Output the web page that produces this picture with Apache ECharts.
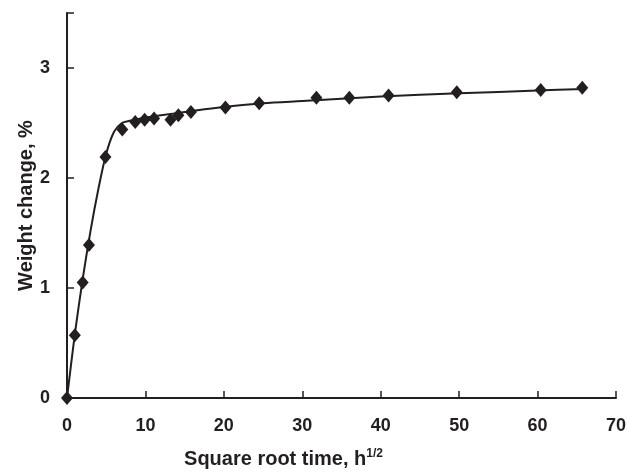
<!DOCTYPE html>
<html>
<head>
<meta charset="utf-8">
<script src="https://cdn.jsdelivr.net/npm/echarts@6/dist/echarts.min.js"></script>
<style>
  html, body { margin: 0; padding: 0; background: #fff; }
  #chart { width: 630px; height: 474px; }
</style>
</head>
<body>
<div id="chart"></div>
<script>
// Measured points (square root time vs weight change)
const pointX = [0, 1.0, 2.0, 2.8, 4.9, 7.05, 8.7, 9.9, 11.1, 13.2, 14.2, 15.8, 20.2, 24.5, 31.8, 36.0, 41.0, 49.7, 60.4, 65.7];
const pointY = [0, 0.57, 1.05, 1.39, 2.19, 2.44, 2.51, 2.53, 2.54, 2.53, 2.57, 2.60, 2.64, 2.68, 2.73, 2.73, 2.75, 2.78, 2.80, 2.82];

// Fitted curve
const curveX = [0, 1, 2, 3, 4, 5, 6, 7, 8, 10, 12, 15, 20, 25, 30, 40, 50, 60, 66];
const curveY = [0, 0.58, 1.08, 1.52, 1.9, 2.22, 2.42, 2.5, 2.52, 2.55, 2.57, 2.6, 2.645, 2.68, 2.7, 2.74, 2.77, 2.795, 2.81];

const xTicks = [0, 10, 20, 30, 40, 50, 60, 70];
const yTicks = [0, 1, 2, 3];

const ink = '#231f20';
const font = 'Liberation Sans, Arial, sans-serif';

const chart = echarts.init(document.getElementById('chart'));

const option = {
    animation: false,
    grid: { left: 67, right: 14, top: 13, bottom: 75 },
    xAxis: {
        type: 'value',
        min: 0,
        max: 70,
        interval: 10,
        name: '{b|Square root time, h}{s|1/2}',
        nameLocation: 'middle',
        nameGap: 50,
        nameTextStyle: {
            padding: [0, 116, 0, 0],
            rich: {
                b: { fontFamily: font, fontWeight: 'bold', fontSize: 20, color: ink, verticalAlign: 'bottom' },
                s: { fontFamily: font, fontWeight: 'bold', fontSize: 12, color: ink, verticalAlign: 'top', padding: [0, 0, 9, 0] }
            }
        },
        axisLine: { onZero: false, lineStyle: { color: ink, width: 2 } },
        axisTick: { inside: true, length: 7, lineStyle: { color: ink, width: 1.5 } },
        axisLabel: {
            margin: 19,
            fontFamily: font, fontWeight: 'bold', fontSize: 18, color: ink,
            formatter: v => xTicks.includes(v) ? String(v) : ''
        },
        splitLine: { show: false }
    },
    yAxis: {
        type: 'value',
        min: 0,
        max: 3.5,
        interval: 1,
        name: 'Weight change, %',
        nameLocation: 'middle',
        nameGap: 31,
        nameMoveOverlap: false,
        nameTextStyle: { fontFamily: font, fontWeight: 'bold', fontSize: 20, color: ink },
        axisLine: { show: true, onZero: false, lineStyle: { color: ink, width: 2 } },
        axisTick: { show: true, inside: true, length: 7, lineStyle: { color: ink, width: 1.5 } },
        axisLabel: {
            margin: 17,
            fontFamily: font, fontWeight: 'bold', fontSize: 18, color: ink,
            formatter: v => yTicks.includes(v) ? String(v) : ''
        },
        splitLine: { show: false }
    },
    series: [
        {
            type: 'line',
            data: curveX.map((x, i) => [x, curveY[i]]),
            smooth: 0.3,
            showSymbol: false,
            lineStyle: { color: ink, width: 2 },
            z: 2
        },
        {
            type: 'scatter',
            data: pointX.map((x, i) => [x, pointY[i]]),
            symbol: 'diamond',
            symbolSize: [12, 14],
            itemStyle: { color: ink, opacity: 1 },
            z: 3
        }
    ]
};

chart.setOption(option);
</script>
</body>
</html>
